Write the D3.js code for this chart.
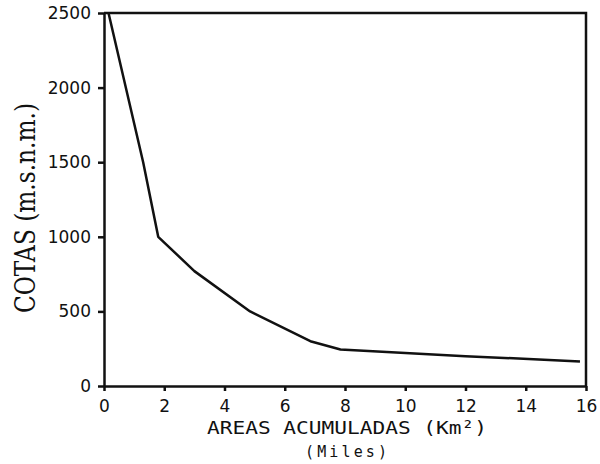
<!DOCTYPE html>
<html>
<head>
<meta charset="utf-8">
<script src="https://cdn.jsdelivr.net/npm/d3@7"></script>
<style>
  html, body { margin: 0; padding: 0; background: #fff; }
  svg { display: block; }
</style>
</head>
<body>
<svg id="chart" width="600" height="464"></svg>
<script>
// Cumulative area (thousands of km²) against elevation (m.a.s.l.)
const areas = [0.15, 1.3, 1.8, 3.0, 4.85, 6.85, 7.85, 12.0, 15.8];
const cotas = [2500, 1500, 1000, 770, 500, 300, 245, 200, 165];
const xTicks = [0, 2, 4, 6, 8, 10, 12, 14, 16];
const yTicks = [0, 500, 1000, 1500, 2000, 2500];
const xTitle = "AREAS ACUMULADAS (Km²)";
const xSubtitle = "(Miles)";
const yTitle = "COTAS (m.s.n.m.)";

const svg = d3.select("#chart");
const x = d3.scaleLinear().domain([0, 16]).range([104, 586]);
const y = d3.scaleLinear().domain([0, 2500]).range([386, 13]);

const ink = "#111";
const tickFont = "'DejaVu Sans', sans-serif";

// frame: top and right edges
svg.append("path")
  .attr("d", `M${x(0)},${y(2500)}H${x(16)}V${y(0)}`)
  .attr("fill", "none").attr("stroke", ink).attr("stroke-width", 2.5);

// y axis
const gy = svg.append("g").attr("transform", `translate(${x(0)},0)`)
  .call(d3.axisLeft(y).tickValues(yTicks).tickFormat(d3.format("d"))
    .tickSize(6).tickPadding(7).tickSizeOuter(0));
// x axis
const gx = svg.append("g").attr("transform", `translate(0,${y(0)})`)
  .call(d3.axisBottom(x).tickValues(xTicks).tickFormat(d3.format("d"))
    .tickSize(5).tickPadding(9).tickSizeOuter(0));

[gx, gy].forEach(g => {
  g.select(".domain").attr("stroke", ink).attr("stroke-width", 2.5);
  g.selectAll(".tick line").attr("stroke", ink).attr("stroke-width", 2.5);
  g.selectAll(".tick text").attr("fill", ink)
    .style("font-family", tickFont).style("font-size", "17px");
});

// curve
const line = d3.line().x((d, i) => x(areas[i])).y(d => y(d));
svg.append("path")
  .datum(cotas)
  .attr("d", line)
  .attr("fill", "none").attr("stroke", ink).attr("stroke-width", 2.5)
  .attr("stroke-linejoin", "round");

// axis titles
svg.append("text")
  .attr("x", 347).attr("y", 434)
  .attr("text-anchor", "middle")
  .attr("textLength", 280).attr("lengthAdjust", "spacingAndGlyphs")
  .style("font-family", "'DejaVu Sans Mono', monospace").style("font-size", "18px")
  .attr("fill", ink)
  .text(xTitle);

svg.append("text")
  .attr("x", 346).attr("y", 457)
  .attr("text-anchor", "middle")
  .attr("textLength", 82).attr("lengthAdjust", "spacing")
  .style("font-family", "'DejaVu Sans Mono', monospace").style("font-size", "15px")
  .attr("fill", ink)
  .text(xSubtitle);

svg.append("text")
  .attr("transform", "translate(35,208) rotate(-90)")
  .attr("text-anchor", "middle")
  .attr("textLength", 210).attr("lengthAdjust", "spacingAndGlyphs")
  .style("font-family", "'DejaVu Serif', serif").style("font-size", "28px")
  .attr("fill", ink)
  .text(yTitle);
</script>
</body>
</html>
